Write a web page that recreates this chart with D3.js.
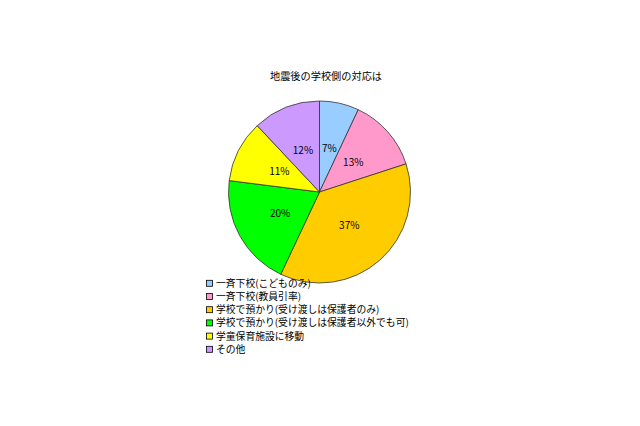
<!DOCTYPE html>
<html><head><meta charset="utf-8">
<script src="https://cdn.jsdelivr.net/npm/d3@7"></script>
<style>body{margin:0;background:#fff}svg{display:block}</style>
</head><body>
<script>
const categories = ["一斉下校(こどものみ)","一斉下校(教員引率)","学校で預かり(受け渡しは保護者のみ)","学校で預かり(受け渡しは保護者以外でも可)","学童保育施設に移動","その他"];
const values = [7,13,37,20,11,12];
const colors = ["#99CCFF","#FF99CC","#FFCC00","#00FF00","#FFFF00","#CC99FF"];
const title = "地震後の学校側の対応は";

const W=640,H=426;
const font = "'Noto Sans CJK JP', sans-serif";
const svg = d3.select("body").append("svg").attr("width",W).attr("height",H);
svg.append("rect").attr("width",W).attr("height",H).attr("fill","#fff");

svg.append("text").attr("x",326).attr("y",79.5).attr("text-anchor","middle")
  .attr("font-family",font).attr("font-size",10.2).attr("fill","#000").text(title);

const cx=319.5, cy=192, r=91;
const pie = d3.pie().sort(null).value(d=>d)(values);
const arc = d3.arc().innerRadius(0).outerRadius(r);
const g = svg.append("g").attr("transform",`translate(${cx},${cy})`);
g.selectAll("path").data(pie).join("path").attr("d",arc)
  .attr("fill",(d,i)=>colors[i]).attr("stroke","#333").attr("stroke-width",0.8);
const lab = d3.arc().innerRadius(45).outerRadius(45);
g.selectAll("text").data(pie).join("text")
  .attr("transform",d=>`translate(${lab.centroid(d)})`)
  .attr("text-anchor","middle").attr("dy","0.35em")
  .attr("font-family",font).attr("font-size",10).attr("fill","#000")
  .text(d=>d.value+"%");

const ly = d3.scalePoint().domain(d3.range(values.length)).range([283.3,349.3]);
const lg = svg.append("g");
const items = lg.selectAll("g").data(categories).join("g")
  .attr("transform",(d,i)=>`translate(206,${ly(i)})`);
items.append("rect").attr("x",0.5).attr("y",-3).attr("width",6).attr("height",6)
  .attr("fill",(d,i)=>colors[i]).attr("stroke","#000").attr("stroke-width",0.8);
items.append("text").attr("x",10).attr("dy","0.35em")
  .attr("font-family",font).attr("font-size",9.8).attr("fill","#000").text(d=>d);
</script>
</body></html>
